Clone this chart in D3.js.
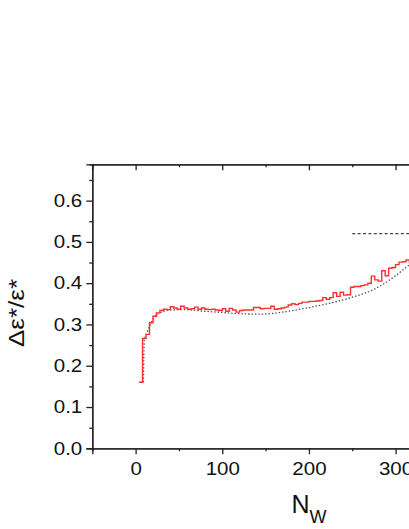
<!DOCTYPE html>
<html>
<head>
<meta charset="utf-8">
<script src="https://cdn.jsdelivr.net/npm/d3@7"></script>
<style>
  body { margin: 0; background: #fff; }
  text { font-family: "Liberation Sans", Arial, sans-serif; fill: #111; }
</style>
</head>
<body>
<div id="chart"></div>
<script>
// histogram of the relative width, bins of N_W (width 4, first bin starts at 4)
const binStart = 4;
const binWidth = 4;
const stepValues = [
  0.160, 0.266, 0.276, 0.304, 0.320, 0.328, 0.334, 0.337, 0.336, 0.343,
  0.340, 0.337, 0.344, 0.340, 0.337, 0.338, 0.342, 0.337, 0.340, 0.337,
  0.336, 0.337, 0.335, 0.334, 0.338, 0.332, 0.339, 0.335, 0.330, 0.334,
  0.335, 0.335, 0.335, 0.341, 0.341, 0.338, 0.339, 0.339, 0.344, 0.337,
  0.338, 0.340, 0.342, 0.347, 0.350, 0.348, 0.351, 0.354, 0.354, 0.356,
  0.356, 0.357, 0.358, 0.365, 0.361, 0.365, 0.377, 0.368, 0.378, 0.371,
  0.372, 0.390, 0.392, 0.392, 0.394, 0.396, 0.400, 0.417, 0.408, 0.405,
  0.430, 0.418, 0.436, 0.438, 0.445, 0.451, 0.452, 0.456, 0.450
];

// smooth fit (dotted)
const fitN = [9, 10, 13, 17, 22, 30, 40, 55, 80, 100, 120, 145, 170, 200, 225, 250, 275, 300, 315, 325];
const fitValues = [0.160, 0.262, 0.280, 0.300, 0.318, 0.330, 0.335, 0.336, 0.332, 0.329,
                   0.326, 0.325, 0.330, 0.341, 0.352, 0.366, 0.385, 0.418, 0.443, 0.458];

// limit (dashed)
const limitN = [250, 340];
const limitValues = [0.52, 0.52];

const xTicks = [0, 100, 200, 300, 400];
const xMinorTicks = [-50, 50, 150, 250, 350];
const yTicks = [0.0, 0.1, 0.2, 0.3, 0.4, 0.5, 0.6];
const yMinorTicks = [0.05, 0.15, 0.25, 0.35, 0.45, 0.55, 0.65];

const width = 409, height = 529;
const plotLeft = 92.3, plotTop = 164.3, plotBottom = 448.3;

const svg = d3.select("#chart").append("svg")
  .attr("width", width)
  .attr("height", height);

const x = d3.scaleLinear().domain([-50, 450]).range([plotLeft, plotLeft + 500 * 0.8665]);
const y = d3.scaleLinear().domain([0, 0.688]).range([plotBottom, plotTop]);

const stretch = "scale(1.14,1)";

// axes
const gx = svg.append("g").attr("transform", `translate(0,${plotBottom})`)
  .call(d3.axisBottom(x).tickValues(xTicks).tickSize(6).tickPadding(8).tickFormat(d3.format("d")));
gx.selectAll("text").attr("font-size", 18).attr("transform", stretch);

svg.append("g").attr("transform", `translate(0,${plotBottom})`)
  .call(d3.axisBottom(x).tickValues(xMinorTicks).tickSize(3).tickFormat(""));

const gy = svg.append("g").attr("transform", `translate(${plotLeft},0)`)
  .call(d3.axisLeft(y).tickValues(yTicks).tickSize(6).tickPadding(2.8).tickFormat(d3.format(".1f")));
gy.selectAll("text").attr("font-size", 18).attr("transform", stretch);

svg.append("g").attr("transform", `translate(${plotLeft},0)`)
  .call(d3.axisLeft(y).tickValues(yMinorTicks).tickSize(3).tickFormat(""));

// top axis, ticks inward
svg.append("g").attr("transform", `translate(0,${plotTop})`)
  .call(d3.axisBottom(x).tickValues(xTicks).tickSize(6).tickFormat(""));
svg.append("g").attr("transform", `translate(0,${plotTop})`)
  .call(d3.axisBottom(x).tickValues(xMinorTicks).tickSize(3).tickFormat(""));

svg.selectAll(".domain, .tick line").attr("stroke", "#222").attr("stroke-width", 1.3);

// dotted fit
const fitLine = d3.line()
  .x((d, i) => x(fitN[i]))
  .y(d => y(d))
  .curve(d3.curveMonotoneX);

svg.append("path")
  .attr("d", fitLine(fitValues))
  .attr("fill", "none")
  .attr("stroke", "#4a4f60")
  .attr("stroke-width", 1.3)
  .attr("stroke-dasharray", "1.4,2");

// step histogram
const stepPoints = stepValues.map((v, i) => [binStart + i * binWidth, v]);
stepPoints.push([binStart + stepValues.length * binWidth, stepValues[stepValues.length - 1]]);

const stepLine = d3.line()
  .x(d => x(d[0]))
  .y(d => y(d[1]))
  .curve(d3.curveStepAfter);

svg.append("path")
  .attr("d", stepLine(stepPoints))
  .attr("fill", "none")
  .attr("stroke", "#ff3030")
  .attr("stroke-width", 1.4);

// dashed limit
svg.append("path")
  .attr("d", d3.line().x((d, i) => x(limitN[i])).y(d => y(d))(limitValues))
  .attr("fill", "none")
  .attr("stroke", "#444")
  .attr("stroke-width", 1.4)
  .attr("stroke-dasharray", "3,2.4");

// axis titles
svg.append("text")
  .attr("transform", "translate(24,313) rotate(-90)")
  .attr("text-anchor", "middle")
  .attr("font-size", 22)
  .attr("textLength", 68)
  .attr("lengthAdjust", "spacingAndGlyphs")
  .text("Δε*/ε*");

const xt = svg.append("text")
  .attr("x", (x.range()[0] + x.range()[1]) / 2)
  .attr("y", 513)
  .attr("text-anchor", "middle")
  .attr("font-size", 25);
xt.append("tspan").text("N");
xt.append("tspan").attr("font-size", 18).attr("dy", 10).text("W");
</script>
</body>
</html>
